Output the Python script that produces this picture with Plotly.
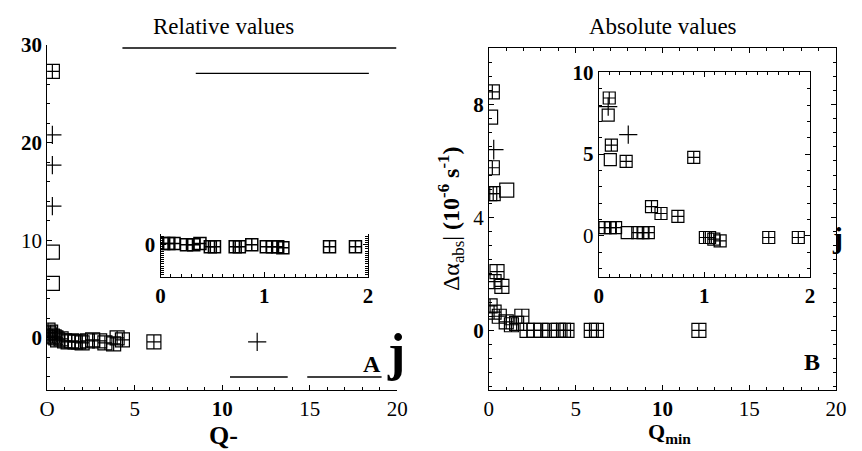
import plotly.graph_objects as go

W, H = 862, 451
FONT = "Liberation Serif, Times New Roman, serif"

# ---------------- Panel A (relative values) ----------------
a_sqx_x = [0.3, 0.05, 0.1, 0.15, 0.2, 0.3, 0.4, 0.5, 0.6, 0.8, 1.0, 1.2, 1.4, 1.6, 1.8, 2.0, 2.3, 2.6, 3.0, 3.3, 3.8, 4.0, 4.3, 6.1]
a_sqx_y = [27.3, 0.8, 0.5, 0.3, 0.6, 0.2, 0.1, 0.0, -0.2, -0.1, -0.3, -0.4, -0.3, -0.4, -0.4, -0.5, -0.3, -0.2, -0.3, -0.5, -0.6, 0.0, -0.2, -0.4]
a_sq_x = [0.3, 0.3]
a_sq_y = [8.8, 5.6]
a_cr_x = [0.3, 0.3, 0.3, 12.0]
a_cr_y = [20.8, 17.7, 13.5, -0.4]

a_in_x = [0.03, 0.08, 0.13, 0.25, 0.32, 0.38, 0.48, 0.52, 0.72, 0.76, 0.88, 1.02, 1.08, 1.13, 1.18, 1.63, 1.88]
a_in_y = [0.1, 0.1, 0.1, 0.0, 0.0, 0.1, -0.2, -0.2, -0.2, -0.2, 0.0, -0.2, -0.2, -0.2, -0.3, -0.2, -0.2]

# ---------------- Panel B (absolute values) ----------------
b_sqx_x = [0.2, 0.2, 0.05, 0.25, 0.47, 0.3, 0.75, 0.07, 0.3, 0.6, 1.0, 1.3, 1.6, 1.9, 2.2, 2.6, 3.0, 3.5, 4.0, 4.3, 4.5, 5.9, 6.2, 12.1]
b_sqx_y = [8.45, 5.76, 4.84, 4.84, 2.08, 1.73, 1.56, 0.87, 0.65, 0.5, 0.3, 0.2, 0.25, 0.5, 0.0, 0.0, 0.0, 0.0, 0.0, 0.0, 0.0, 0.0, 0.0, 0.0]
b_sq_x = [0.1, 1.03]
b_sq_y = [7.55, 4.97]
b_cr_x = [0.28]
b_cr_y = [6.4]

b_in_sqx_x = [0.10, 0.12, 0.26, 0.90, 0.50, 0.59, 0.75, 0.06, 0.11, 0.16, 0.37, 0.42, 0.47, 1.01, 1.05, 1.09, 1.15, 1.61, 1.89]
b_in_sqx_y = [8.43, 5.55, 4.56, 4.8, 1.79, 1.37, 1.19, 0.5, 0.5, 0.5, 0.2, 0.2, 0.2, -0.1, -0.1, -0.2, -0.3, -0.1, -0.1]
b_in_sq_x = [0.09, 0.11, 0.27]
b_in_sq_y = [7.38, 4.66, 0.2]
b_in_cr_x = [0.09, 0.28]
b_in_cr_y = [7.9, 6.19]

fig = go.Figure()

def sc(x, y, sym, size, xa, ya, lw=1.2):
    fig.add_trace(go.Scatter(x=x, y=y, mode="markers", xaxis=xa, yaxis=ya, showlegend=False,
                             marker=dict(symbol=sym, size=size, color="black",
                                         line=dict(color="black", width=lw))))

sc(a_sqx_x, a_sqx_y, "square-cross-open", 14, "x", "y")
sc(a_sq_x, a_sq_y, "square-open", 14, "x", "y")
sc(a_cr_x, a_cr_y, "cross-thin-open", 13, "x", "y")
sc(a_in_x, a_in_y, "square-cross-open", 12, "x2", "y2", 1.5)
sc(b_sqx_x, b_sqx_y, "square-cross-open", 14, "x3", "y3")
sc(b_sq_x, b_sq_y, "square-open", 14, "x3", "y3")
sc(b_cr_x, b_cr_y, "cross-thin-open", 14, "x3", "y3")
sc(b_in_sqx_x, b_in_sqx_y, "square-cross-open", 12, "x4", "y4")
sc(b_in_sq_x, b_in_sq_y, "square-open", 12, "x4", "y4")
sc(b_in_cr_x, b_in_cr_y, "cross-thin-open", 13, "x4", "y4")

def px_x(p): return p / W
def px_y(p): return 1 - p / H

tickfont = dict(family=FONT, size=21, color="black")
common = dict(showgrid=False, zeroline=False, showline=True, linecolor="black", linewidth=1,
              ticks="inside", ticklen=5, tickcolor="black", tickfont=tickfont,
              minor=dict(ticks="inside", ticklen=3, tickcolor="black"))

fig.update_layout(
    width=W, height=H, margin=dict(l=0, r=0, t=0, b=0),
    paper_bgcolor="white", plot_bgcolor="rgba(0,0,0,0)",
    font=dict(family=FONT, color="black"),
    xaxis=dict(domain=[px_x(40), px_x(398)], range=[0, 20], anchor="y",
               tickvals=[0, 5, 10, 15, 20], ticktext=["O", "5", "<b>10</b>", "15", "20"], **common),
    yaxis=dict(domain=[px_y(388), px_y(34)], range=[-5.3, 30], anchor="x",
               tickvals=[0, 10, 20, 30], ticktext=["<b>0</b>", "10", "<b>20</b>", "<b>30</b>"], **common),
    xaxis2=dict(domain=[px_x(156), px_x(368)], range=[0, 2], anchor="y2",
                tickvals=[0, 1, 2], ticktext=["<b>0</b>", "<b>1</b>", "<b>2</b>"], **common),
    yaxis2=dict(domain=[px_y(272), px_y(228)], range=[-3, 1], anchor="x2",
                tickvals=[0], ticktext=["<b>0</b>"], mirror="ticks", **common),
    xaxis3=dict(domain=[px_x(491.7), px_x(846.7)], range=[0, 20], anchor="y3", mirror="ticks",
                tickvals=[0, 5, 10, 15, 20], ticktext=["0", "5", "<b>10</b>", "15", "20"], **common),
    yaxis3=dict(domain=[px_y(388), px_y(37)], range=[-2.1, 10], anchor="x3", mirror="ticks",
                tickvals=[0, 4, 8], ticktext=["<b>0</b>", "4", "<b>8</b>"],
                title=dict(text="Δα<sub>abs</sub>| <b>(10<sup>-6</sup> s<sup>-1</sup>)</b>",
                           font=dict(family=FONT, size=24), standoff=6), **common),
    xaxis4=dict(domain=[px_x(604), px_x(820)], range=[0, 2], anchor="y4", mirror="ticks",
                tickvals=[0, 1, 2], ticktext=["<b>0</b>", "<b>1</b>", "<b>2</b>"], **common),
    yaxis4=dict(domain=[px_y(272), px_y(62)], range=[-2.5, 10], anchor="x4", mirror="ticks",
                tickvals=[0, 5, 10], ticktext=["0", "<b>5</b>", "<b>10</b>"], **common),
)

# partial frame segments of panel A (scan remnants)
for (x0, x1, yy) in [(117, 397, 37), (192, 369, 63), (227, 286, 375), (306, 382, 375)]:
    fig.add_shape(type="line", xref="paper", yref="paper", x0=px_x(x0), x1=px_x(x1),
                  y0=px_y(yy), y1=px_y(yy), line=dict(color="black", width=1.3))

def txt(t, x, y, size, bold=False):
    fig.add_annotation(text=("<b>%s</b>" % t) if bold else t, xref="paper", yref="paper",
                       x=px_x(x), y=px_y(y), showarrow=False, xanchor="center", yanchor="middle",
                       font=dict(family=FONT, size=size, color="black"))

txt("Relative values", 220, 15, 23)
txt("Absolute values", 670, 15, 23)
txt("Q-", 220, 435, 26, True)
txt("Q<sub>min</sub>", 676, 433, 22, True)
txt("A", 372, 362, 24, True)
txt("j", 397, 350, 52, True)
txt("B", 822, 360, 24, True)
txt("j", 848, 232, 30, True)

fig.write_html("out.html")
